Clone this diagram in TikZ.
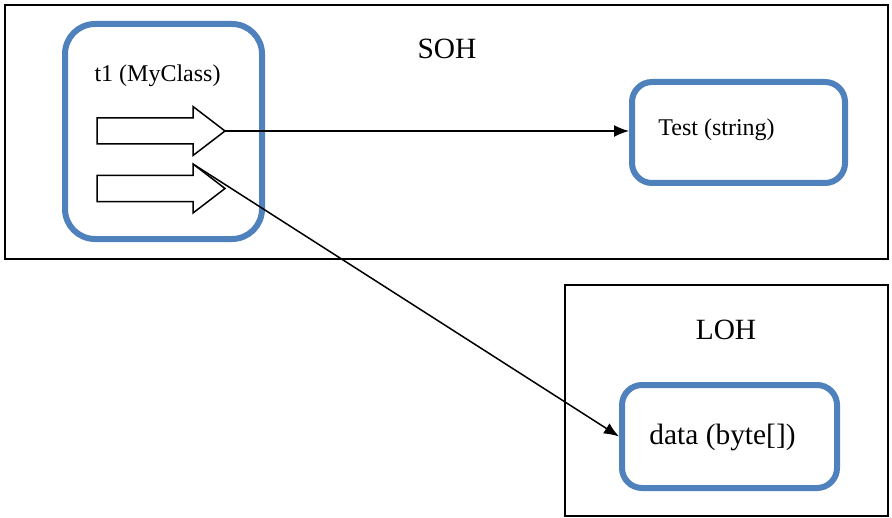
\documentclass[tikz,border=0pt]{standalone}
\usepackage{fontspec}
\setmainfont{Liberation Serif}
\usetikzlibrary{arrows.meta}
\definecolor{objblue}{RGB}{79,129,189}

\begin{document}
\begin{tikzpicture}[x=0.5pt,y=-0.5pt,
  heap/.style={draw=black,line width=1pt,rectangle,inner sep=0pt},
  obj/.style={draw=objblue,line width=3pt,rectangle,inner sep=0pt},
  small/.style={font=\fontsize{12}{14}\selectfont,inner sep=0pt},
  big/.style={font=\fontsize{14.7}{17}\selectfont,inner sep=0pt},
  ref/.style={line width=0.75pt,-{Latex[length=7.5pt,width=6pt]}}]
\useasboundingbox (0,0) rectangle (892,518);
% heaps
\node[heap,minimum width=441.5pt,minimum height=127pt] (soh) at (446.5,132) {};
\node[heap,minimum width=161.5pt,minimum height=115.5pt] (loh) at (726.5,400.5) {};
\node[big] (sohtext) at (447,49) {SOH};
\node[big] (lohtext) at (726,330) {LOH};
% objects
\node[obj,rounded corners=15pt,minimum width=98.5pt,minimum height=107.5pt] (t1) at (163.5,131.5) {};
\node[obj,rounded corners=10pt,minimum width=106.5pt,minimum height=50.5pt] (test) at (738.5,132.5) {};
\node[obj,rounded corners=10pt,minimum width=107.5pt,minimum height=51.5pt] (data) at (729.5,436.5) {};
\node[small] (t1text) at (157.5,76) {t1 (MyClass)};
\node[small] (testtext) at (716.5,130) {Test (string)};
\node[big] (datatext) at (722.5,437) {data (byte[])};
% fields
\foreach \y/\n in {131/a,188.5/b}
{
  \draw[line width=0.75pt,fill=white] (97,\y-13) -- (193,\y-13) -- (193,\y-24.5) -- (225,\y)
    -- (193,\y+24.5) -- (193,\y+13) -- (97,\y+13) -- cycle;
  \coordinate (tip\n) at (225,\y);
  \coordinate (corner\n) at (193,\y-24.5);
}
\draw[ref] (tipa) -- (tipa -| test.west);
\draw[ref] (cornerb) -- (data.west);
\end{tikzpicture}
\end{document}
